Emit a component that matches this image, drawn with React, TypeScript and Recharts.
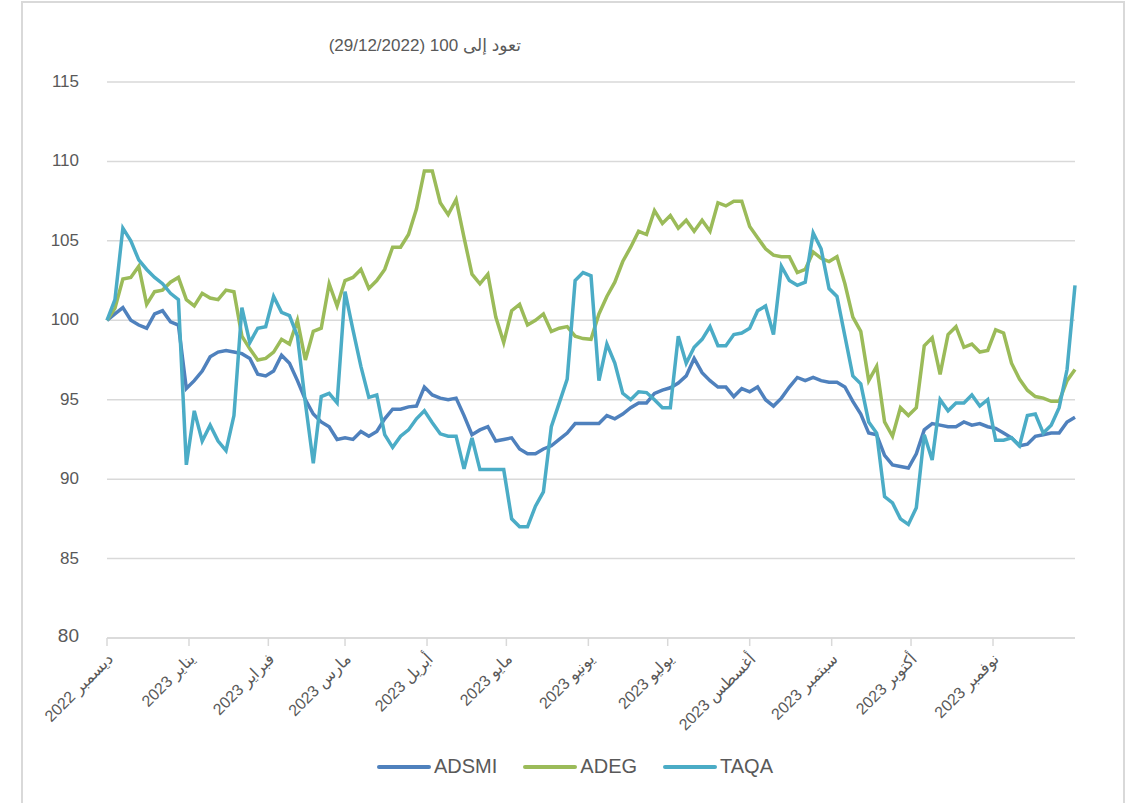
import { LineChart, Line, XAxis, YAxis, CartesianGrid } from 'recharts';

// values rebased to 100 on 29/12/2022, one reading every 3 days
const adsmi = [
  100, 100.4, 100.8, 100.0, 99.7, 99.5, 100.4, 100.6, 99.9, 99.7,
  95.7, 96.2, 96.8, 97.7, 98.0, 98.1, 98.0, 97.9, 97.6, 96.6,
  96.5, 96.8, 97.8, 97.3, 96.2, 95.0, 94.1, 93.6, 93.3, 92.5,
  92.6, 92.5, 93.0, 92.7, 93.0, 93.8, 94.4, 94.4, 94.55, 94.6,
  95.8, 95.3, 95.1, 95.0, 95.1, 94.0, 92.8, 93.1, 93.3, 92.4,
  92.5, 92.6, 91.9, 91.6, 91.6, 91.9, 92.1, 92.5, 92.9, 93.5,
  93.5, 93.5, 93.5, 94.0, 93.8, 94.1, 94.5, 94.8, 94.8, 95.4,
  95.6, 95.75, 96.05, 96.5, 97.6, 96.7, 96.2, 95.8, 95.8, 95.2,
  95.7, 95.5, 95.8, 95.0, 94.6, 95.1, 95.8, 96.4, 96.2, 96.4,
  96.2, 96.1, 96.1, 95.8, 94.9, 94.1, 92.9, 92.8, 91.5, 90.9,
  90.8, 90.7, 91.6, 93.1, 93.5, 93.4, 93.3, 93.3, 93.6, 93.4,
  93.5, 93.3, 93.2, 92.9, 92.6, 92.1, 92.2, 92.7, 92.8, 92.9,
  92.9, 93.6, 93.9,
];

const adeg = [
  100, 100.75, 102.6, 102.7, 103.4, 101.0, 101.8, 101.9, 102.4, 102.7,
  101.3, 100.9, 101.7, 101.4, 101.3, 101.9, 101.8, 99.0, 98.2, 97.5,
  97.6, 98.0, 98.8, 98.5, 100.0, 97.5, 99.3, 99.5, 102.3, 100.9,
  102.5, 102.7, 103.2, 102.0, 102.5, 103.2, 104.6, 104.6, 105.4, 107.0,
  109.4, 109.4, 107.4, 106.65, 107.6, 105.2, 102.9, 102.3, 102.9, 100.2,
  98.6, 100.6, 101.0, 99.7, 100.0, 100.4, 99.3, 99.5, 99.6, 99.0,
  98.85, 98.8, 100.4, 101.5, 102.4, 103.7, 104.6, 105.6, 105.4, 106.9,
  106.1, 106.6, 105.8, 106.3, 105.6, 106.3, 105.6, 107.4, 107.2, 107.5,
  107.5, 105.9, 105.2, 104.5, 104.1, 104.0, 104.0, 103.0, 103.2, 104.3,
  103.9, 103.7, 104.0, 102.3, 100.2, 99.3, 96.2, 97.1, 93.6, 92.7,
  94.5, 94.0, 94.5, 98.4, 98.9, 96.6, 99.1, 99.6, 98.3, 98.5,
  98.0, 98.1, 99.4, 99.2, 97.3, 96.3, 95.6, 95.2, 95.1, 94.9,
  94.9, 96.2, 96.9,
];

const taqa = [
  100, 101.3, 105.8, 105.0, 103.8, 103.2, 102.7, 102.3, 101.7, 101.3,
  90.9, 94.3, 92.4, 93.4, 92.4, 91.8, 94.0, 100.8, 98.6, 99.5,
  99.6, 101.5, 100.5, 100.3, 99.0, 94.8, 91.0, 95.2, 95.4, 94.8,
  101.8, 99.4, 97.1, 95.15, 95.3, 92.8, 92.0, 92.7, 93.1, 93.8,
  94.3, 93.55, 92.85, 92.7, 92.7, 90.65, 92.6, 90.6, 90.6, 90.6,
  90.6, 87.5, 87.0, 87.0, 88.3, 89.2, 93.3, 94.8, 96.3, 102.5,
  103.0, 102.8, 96.2, 98.5, 97.3, 95.4, 95.0, 95.5, 95.45, 95.0,
  94.5, 94.5, 99.0, 97.3, 98.3, 98.8, 99.6, 98.4, 98.4, 99.1,
  99.2, 99.5, 100.6, 100.9, 99.1, 103.4, 102.5, 102.2, 102.4, 105.5,
  104.5, 102.0, 101.5, 99.0, 96.5, 96.0, 93.6, 92.9, 88.9, 88.5,
  87.5, 87.15, 88.2, 92.8, 91.2, 95.0, 94.3, 94.8, 94.8, 95.3,
  94.6, 95.0, 92.45, 92.45, 92.6, 92.1, 94.0, 94.1, 92.9, 93.4,
  94.5, 96.9, 102.2,
];

const monthTicks = [0, 31, 61, 90, 121, 151, 182, 212, 243, 274, 304, 335];
const monthLabels = [
  'ديسمبر 2022', 'يناير 2023', 'فبراير 2023', 'مارس 2023', 'أبريل 2023', 'مايو 2023',
  'يونيو 2023', 'يوليو 2023', 'أغسطس 2023', 'سبتمبر 2023', 'أكتوبر 2023', 'نوفمبر 2023',
];
const yTicks = [80, 85, 90, 95, 100, 105, 110, 115];

const series = [
  { key: 'ADSMI', color: '#4f81bd' },
  { key: 'ADEG', color: '#9bbb59' },
  { key: 'TAQA', color: '#4bacc6' },
];

const data = adsmi.map((v, i) => ({
  day: i * 3,
  ADSMI: v,
  ADEG: adeg[i],
  TAQA: taqa[i],
}));

const font = '"Liberation Sans", Arial, "DejaVu Sans", sans-serif';
const grey = '#595959';

const MonthTick = ({ x, y, payload }: any) => {
  const idx = monthTicks.indexOf(payload.value);
  return (
    <g transform={`translate(${x + 7},${y + 12})`}>
      <text
        x={0}
        y={0}
        transform="rotate(-45)"
        textAnchor="end"
        fontSize={16}
        fontFamily={font}
        fill={grey}
      >
        {monthLabels[idx]}
      </text>
    </g>
  );
};

const ValueTick = ({ x, y, payload }: any) => (
  <text
    x={x}
    y={y}
    dy={payload.value === 80 ? 4 : 5}
    textAnchor="end"
    fontSize={payload.value === 80 ? 19 : 17}
    fontFamily={font}
    fill={grey}
  >
    {payload.value}
  </text>
);

export default function App() {
  return (
    <div
      style={{
        position: 'absolute',
        left: 0,
        top: 0,
        width: 1132,
        height: 803,
        background: '#fff',
        overflow: 'hidden',
        fontFamily: font,
      }}
    >
      <div
        style={{
          position: 'absolute',
          left: 21,
          top: 1,
          width: 1100,
          height: 840,
          border: '2px solid #d9d9d9',
        }}
      />
      <div
        dir="rtl"
        style={{
          position: 'absolute',
          right: 1132 - 521,
          top: 35,
          fontSize: 17,
          color: grey,
          whiteSpace: 'nowrap',
        }}
      >
        تعود إلى 100 (29/12/2022)
      </div>

      <div style={{ position: 'absolute', left: 0, top: 0 }}>
        <LineChart
          width={1132}
          height={803}
          data={data}
          margin={{ top: 82, right: 57, left: 47, bottom: 0 }}
        >
          <CartesianGrid vertical={false} stroke="#d9d9d9" strokeWidth={1.5} />
          <XAxis
            dataKey="day"
            type="number"
            domain={[0, 366]}
            ticks={monthTicks}
            interval={0}
            height={165}
            tick={<MonthTick />}
            tickSize={8}
            axisLine={{ stroke: '#d9d9d9', strokeWidth: 1.5 }}
            tickLine={{ stroke: '#d9d9d9', strokeWidth: 1.5 }}
          />
          <YAxis
            domain={[80, 115]}
            ticks={yTicks}
            interval={0}
            width={60}
            axisLine={false}
            tickLine={false}
            tickSize={0}
            tickMargin={28}
            tick={<ValueTick />}
          />
          {series.map((s) => (
            <Line
              key={s.key}
              type="linear"
              dataKey={s.key}
              stroke={s.color}
              strokeWidth={3.5}
              dot={false}
              isAnimationActive={false}
            />
          ))}
        </LineChart>
      </div>

      <div
        style={{
          position: 'absolute',
          left: 377,
          top: 755,
          display: 'flex',
          alignItems: 'center',
          fontSize: 20,
          color: grey,
        }}
      >
        {series.map((s, i) => (
          <div
            key={s.key}
            style={{ display: 'flex', alignItems: 'center', marginLeft: i === 0 ? 0 : 26 }}
          >
            <span
              style={{
                display: 'inline-block',
                width: 54,
                height: 4,
                borderRadius: 2,
                background: s.color,
                marginRight: 3,
              }}
            />
            <span>{s.key}</span>
          </div>
        ))}
      </div>
    </div>
  );
}
